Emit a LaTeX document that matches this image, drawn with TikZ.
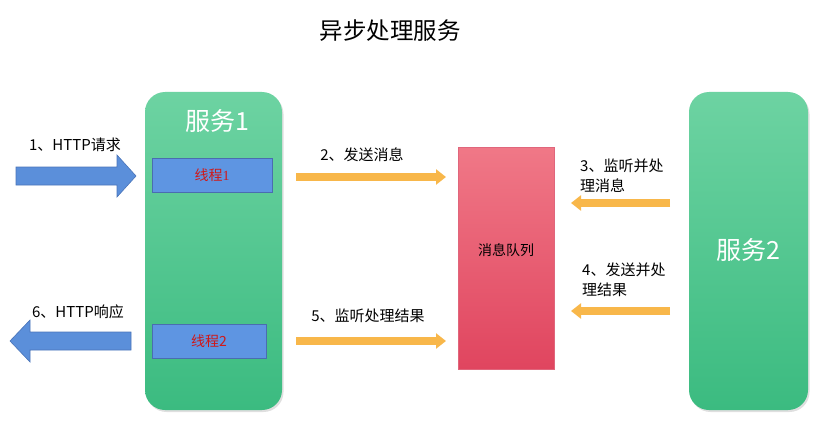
\documentclass[tikz,border=0pt]{standalone}
\usepackage{fontspec}
\setmainfont{Noto Sans CJK SC}
\newfontfamily\serifnum{Liberation Serif}
\usetikzlibrary{arrows.meta,shadows}
\definecolor{svctop}{HTML}{6DD3A2}
\definecolor{svcbot}{HTML}{3BBB80}
\definecolor{mqtop}{HTML}{F07887}
\definecolor{mqbot}{HTML}{E0455F}
\definecolor{mqline}{HTML}{E0667C}
\definecolor{thfill}{HTML}{5E95E2}
\definecolor{thline}{HTML}{4A6DB0}
\definecolor{bafill}{HTML}{5B8FDA}
\definecolor{baline}{HTML}{4A74B8}
\definecolor{orng}{HTML}{F8B74A}
\definecolor{thtext}{HTML}{D01818}
\tikzset{
  svc/.style={rounded corners=20pt, top color=svctop, bottom color=svcbot, draw=none,
    drop shadow={opacity=0.25, shadow xshift=1.5pt, shadow yshift=-2pt}},
  svctext/.style={text=white, font=\fontsize{25}{29}\selectfont},
  thread/.style={fill=thfill, draw=thline, line width=0.6pt, text=thtext,
    font=\fontsize{14}{16}\selectfont, inner sep=0pt},
  mq/.style={top color=mqtop, bottom color=mqbot, draw=mqline, line width=0.6pt},
  lbl/.style={font=\fontsize{15}{20}\selectfont, text=black, inner sep=0pt},
  title/.style={font=\fontsize{23.5}{27}\selectfont},
  oarrow/.style={draw=orng, line width=8pt, -{Triangle[width=15pt,length=10pt]}},
  barrow/.style={fill=bafill, draw=baline, line width=0.6pt, line join=miter}
}
\begin{document}
\begin{tikzpicture}[x=1pt,y=-1pt]
\useasboundingbox (0,0) rectangle (825,436);
% title
\node[title] (title) at (390,31) {异步处理服务};
% services
\node[svc, minimum width=137, minimum height=318] (s1) at (213.5,251) {};
\node[svctext] (s1t) at (217,121) {服务1};
\node[svc, minimum width=119, minimum height=318] (s2) at (748.5,251) {};
\node[svctext] (s2t) at (748,250) {服务2};
% threads
\node[thread, minimum width=120, minimum height=34] (t1) at (212,175) {线程{\serifnum 1}};
\node[thread, minimum width=114, minimum height=34] (t2) at (209,341) {线程2};
% queue
\node[mq, minimum width=96, minimum height=222] (mq) at (506,258) {};
\node[font=\fontsize{14}{16}\selectfont] (mqt) at (506,250) {消息队列};
% big blue arrows
\draw[barrow] (16,167) -- (117,167) -- (117,155) -- (136,176) -- (117,197) -- (117,185) -- (16,185) -- cycle;
\draw[barrow] (131,332) -- (30,332) -- (30,320) -- (10,341) -- (30,362) -- (30,350) -- (131,350) -- cycle;
\node[lbl] (l1) at (75,145) {1、HTTP请求};
\node[lbl] (l6) at (78,312) {6、HTTP响应};
% orange arrows
\coordinate (a2s) at (296,177); \coordinate (a2e) at (446,177);
\coordinate (a5s) at (296,341); \coordinate (a5e) at (446,341);
\coordinate (a3s) at (670,203); \coordinate (a3e) at (571,203);
\coordinate (a4s) at (670,311); \coordinate (a4e) at (571,311);
\draw[oarrow] (a2s) -- (a2e);
\draw[oarrow] (a5s) -- (a5e);
\draw[oarrow] (a3s) -- (a3e);
\draw[oarrow] (a4s) -- (a4e);
\node[lbl] (l2) at (362,155) {2、发送消息};
\node[lbl] (l5) at (368,316) {5、监听处理结果};
\node[lbl, align=left, anchor=west] (l3) at (580,176) {3、监听并处\\理消息};
\node[lbl, align=left, anchor=west] (l4) at (582,280) {4、发送并处\\理结果};
\end{tikzpicture}
\end{document}
